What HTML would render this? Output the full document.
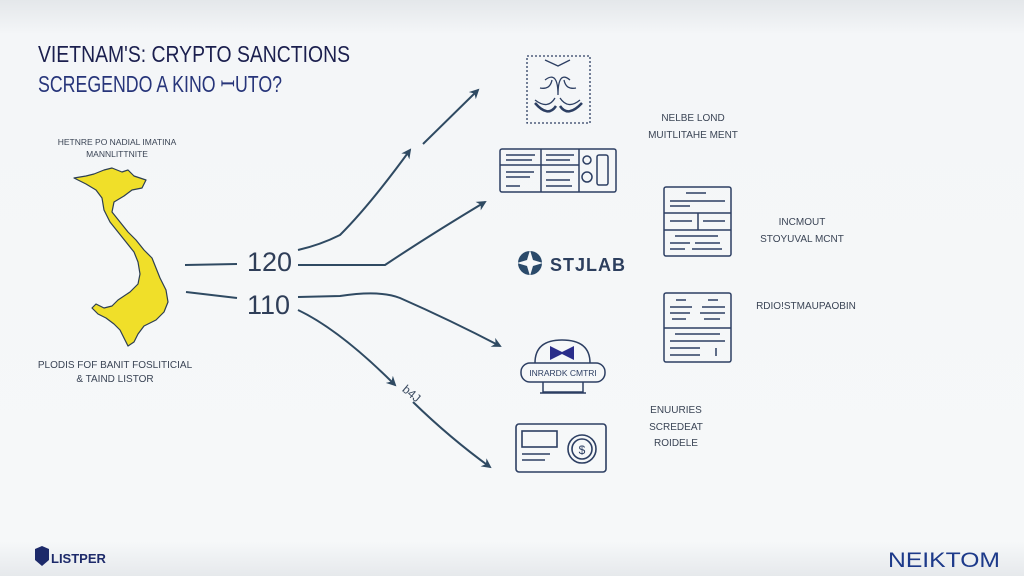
<!DOCTYPE html>
<html><head><meta charset="utf-8"><style>
html,body{margin:0;padding:0;}
body{width:1024px;height:576px;overflow:hidden;background:#f5f7f9;font-family:"Liberation Sans",sans-serif;}
svg{display:block}
</style></head><body>
<svg width="1024" height="576" viewBox="0 0 1024 576" xmlns="http://www.w3.org/2000/svg">
<defs>
<linearGradient id="bg" x1="0" y1="0" x2="0" y2="1">
<stop offset="0" stop-color="#e4e7ea"/><stop offset="0.06" stop-color="#f4f6f8"/><stop offset="0.94" stop-color="#f6f8f9"/><stop offset="1" stop-color="#e6e9ec"/>
</linearGradient>
<marker id="ar" markerWidth="10" markerHeight="10" refX="8" refY="5" orient="auto" markerUnits="userSpaceOnUse">
<path d="M0,0 L10,5 L0,10 L3,5 Z" fill="#2f4a62"/></marker>
</defs>
<rect width="1024" height="576" fill="url(#bg)"/>
<text x="38" y="62" font-size="23" fill="#1b1f4e" textLength="312" lengthAdjust="spacingAndGlyphs">VIETNAM'S: CRYPTO SANCTIONS</text>
<text x="38" y="92" font-size="23" fill="#27357a" textLength="244" lengthAdjust="spacingAndGlyphs">SCREGENDO A KINO ꟷUTO?</text>

<g font-size="8.5" fill="#3a4455" text-anchor="middle">
<text x="117" y="145">HETNRE PO NADIAL IMATINA</text>
<text x="117" y="157">MANNLITTNITE</text>
<text x="115" y="368" font-size="10">PLODIS FOF BANIT FOSLITICIAL</text>
<text x="115" y="382" font-size="10">&amp; TAIND LISTOR</text>
</g>

<path d="M74,178 L86,176 L94,174 L104,170 L112,168 L122,172 L128,170 L134,176 L146,180 L142,188 L132,190 L124,196 L114,202 L112,212 L120,222 L128,232 L136,240 L144,250 L152,258 L156,268 L160,278 L166,290 L168,302 L164,312 L156,320 L144,326 L138,334 L134,342 L128,346 L124,338 L120,330 L114,324 L106,318 L98,314 L92,308 L96,304 L104,308 L112,306 L118,300 L130,292 L138,284 L140,274 L138,262 L134,252 L126,242 L118,232 L110,222 L104,210 L102,198 L96,190 L86,184 Z" fill="#f0df29" stroke="#2d3f52" stroke-width="1.2" stroke-linejoin="round"/>

<g stroke="#2f4a62" stroke-width="2" fill="none">
<path d="M185,265 L237,264"/>
<path d="M186,292 L237,298"/>
<path d="M298,250 Q320,245 340,235 Q370,205 410,150" marker-end="url(#ar)"/>
<path d="M423,144 L478,90" marker-end="url(#ar)"/>
<path d="M298,265 L385,265 Q430,235 485,202" marker-end="url(#ar)"/>
<path d="M298,297 L340,296 Q380,290 400,298 Q450,320 500,346" marker-end="url(#ar)"/>
<path d="M298,310 Q340,330 395,385" marker-end="url(#ar)"/>
<path d="M413,402 Q450,438 490,467" marker-end="url(#ar)"/>
</g>
<text x="247" y="271" font-size="27" fill="#2f3e58">120</text>
<text x="247" y="314" font-size="27" fill="#2f3e58">110</text>
<text x="402" y="395" font-size="12" fill="#3a4a60" transform="rotate(40 408 392)">b4J</text>

<g stroke="#2d3f63" fill="none" stroke-width="1.3">
<rect x="527" y="56" width="63" height="67" stroke-dasharray="2,2"/>
<path d="M535,100 Q548,110 555,98 M580,100 Q568,110 560,98 M545,80 Q558,70 558,95 M570,80 Q558,70 558,95 M540,88 Q550,90 552,80 M576,88 Q566,90 564,80 M545,60 L558,66 L570,60"/>
<path d="M535,103 Q548,118 556,106 M582,103 Q568,118 560,106" stroke-width="2.5"/>
</g>
<g stroke="#2d3f63" fill="none" stroke-width="1.5">
<rect x="500" y="149" width="116" height="43" rx="2"/>
<line x1="541" y1="149" x2="541" y2="192"/><line x1="579" y1="149" x2="579" y2="192"/>
<line x1="500" y1="165" x2="579" y2="165"/>
<path d="M506,155 H535 M506,160 H532 M546,155 H574 M546,160 H570 M506,172 H534 M506,177 H530 M506,186 H520 M546,172 H574 M546,180 H570 M546,186 H572"/>
<circle cx="587" cy="160" r="4"/><circle cx="587" cy="177" r="5"/><rect x="597" y="155" width="11" height="30" rx="2"/>
</g>
<g stroke="#2d3f63" fill="none" stroke-width="1.5">
<rect x="664" y="187" width="67" height="69" rx="2"/>
<line x1="664" y1="213" x2="731" y2="213"/><line x1="664" y1="230" x2="731" y2="230"/><line x1="698" y1="213" x2="698" y2="230"/>
<path d="M686,193 H706 M670,201 H725 M670,206 H690 M670,221 H692 M703,221 H725 M675,236 H718 M670,243 H690 M695,243 H720 M670,249 H685 M692,249 H722"/>
</g>
<g stroke="#2d3f63" fill="none" stroke-width="1.5">
<rect x="664" y="293" width="67" height="69" rx="2"/>
<line x1="664" y1="328" x2="731" y2="328"/>
<path d="M676,300 H686 M708,300 H718 M670,307 H692 M702,307 H725 M670,313 H690 M700,313 H725 M672,319 H686 M704,319 H720 M675,334 H720 M670,341 H725 M670,348 H700 M670,355 H700 M716,348 V356"/>
</g>
<g fill="#2a4a6a">
<circle cx="530" cy="263" r="12"/>
<path d="M530,250 L533,260 L543,263 L533,266 L530,276 L527,266 L517,263 L527,260 Z" fill="#f5f7f9"/>
</g>
<text x="550" y="271" font-size="18" font-weight="bold" fill="#2d3f5e" letter-spacing="1">STJLAB</text>
<g stroke="#2d3f63" fill="none" stroke-width="1.5">
<path d="M535,363 Q535,340 562,340 Q590,340 590,363"/>
<rect x="521" y="363" width="84" height="19" rx="9"/>
<path d="M543,382 V392 H583 V382"/><line x1="540" y1="393" x2="586" y2="393"/>
</g>
<path d="M550,346 L562,352 L574,346 V360 L562,354 L550,360 Z" fill="#2a2d8a"/>
<text x="563" y="376" font-size="8.5" fill="#2d3f63" text-anchor="middle">INRARDK CMTRI</text>
<g stroke="#2d3f63" fill="none" stroke-width="1.6">
<rect x="516" y="424" width="90" height="48" rx="3"/>
<rect x="522" y="431" width="35" height="16"/>
<path d="M522,454 H550 M522,460 H545"/>
<circle cx="582" cy="449" r="14"/><circle cx="582" cy="449" r="10"/>
</g>
<text x="582" y="454" font-size="12" fill="#2d3f63" text-anchor="middle">$</text>

<g font-size="10" fill="#3a4455" text-anchor="middle">
<text x="693" y="121">NELBE LOND</text>
<text x="693" y="138">MUITLITAHE MENT</text>
<text x="802" y="225">INCMOUT</text>
<text x="802" y="242">STOYUVAL MCNT</text>
<text x="806" y="309">RDIO!STMAUPAOBIN</text>
<text x="676" y="413">ENUURIES</text>
<text x="676" y="430">SCREDEAT</text>
<text x="676" y="446">ROIDELE</text>
</g>

<path d="M35,549 L42,546 L49,549 L49,560 L42,566 L35,560 Z" fill="#1d2a6a"/>
<text x="51" y="563" font-size="13" font-weight="bold" fill="#1d2a6a">LISTPER</text>
<text x="888" y="567" font-size="21" fill="#1d3a8a" textLength="112" lengthAdjust="spacingAndGlyphs">NEIKTOM</text>
</svg>
</body></html>
